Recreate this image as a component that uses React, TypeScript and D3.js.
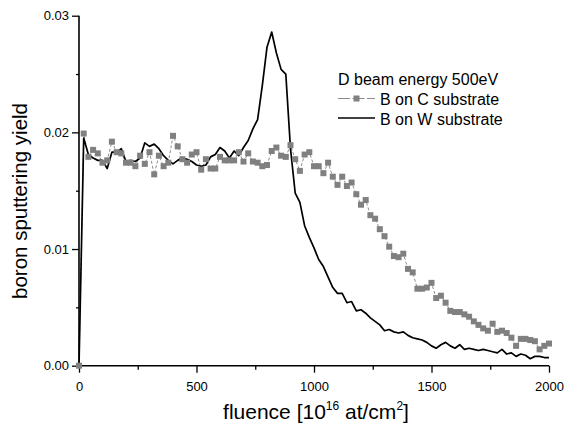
import React, { useRef, useEffect } from "react";
import * as d3 from "d3";

// fluence grid (10^16 at/cm^2), both series sampled every 20
const fluence = d3.range(0, 2001, 20);

const bOnC = [
  0, 0.0199, 0.0179, 0.0185, 0.0182, 0.0174, 0.0176, 0.0192, 0.0183, 0.0182,
  0.0174, 0.0174, 0.0171, 0.018, 0.0173, 0.0183, 0.0164, 0.018, 0.0171, 0.0174,
  0.0197, 0.0188, 0.0177, 0.0174, 0.0181, 0.0183, 0.0168, 0.0177, 0.0169, 0.0169,
  0.0179, 0.0176, 0.0176, 0.0176, 0.0183, 0.0175, 0.0182, 0.0175, 0.0174, 0.0171,
  0.0172, 0.0184, 0.0187, 0.018, 0.0179, 0.0189, 0.0177, 0.0167, 0.0181, 0.0183,
  0.0171, 0.0171, 0.0165, 0.0174, 0.0162, 0.0155, 0.0162, 0.0154, 0.0157, 0.0147,
  0.0138, 0.0142, 0.0129, 0.0126, 0.0117, 0.0111, 0.0102, 0.0094, 0.0093, 0.0096,
  0.0083, 0.008, 0.0066, 0.0066, 0.0067, 0.0071, 0.0058, 0.006, 0.0054, 0.0047,
  0.0046, 0.0046, 0.0044, 0.0042, 0.0038, 0.0035, 0.0032, 0.003, 0.0036, 0.0029,
  0.003, 0.0028, 0.0024, 0.0017, 0.0023, 0.0023, 0.0022, 0.0021, 0.0014, 0.0017,
  0.0019,
];

const bOnW = [
  0, 0.0195, 0.0181, 0.0178, 0.0176, 0.0176, 0.0169, 0.0183, 0.0183, 0.0186,
  0.0175, 0.0176, 0.0175, 0.0178, 0.0191, 0.0188, 0.019, 0.0186, 0.018, 0.0176,
  0.0173, 0.0176, 0.0178, 0.0177, 0.0175, 0.0172, 0.0171, 0.0172, 0.0179, 0.0181,
  0.0187, 0.0184, 0.0178, 0.0184, 0.018, 0.0187, 0.0193, 0.0203, 0.0211, 0.024,
  0.0273, 0.0286, 0.0268, 0.0254, 0.025, 0.0186, 0.0148, 0.014, 0.012, 0.011,
  0.0101, 0.0091, 0.0085, 0.0076, 0.0067, 0.0062, 0.0062, 0.0054, 0.0055, 0.0047,
  0.0048, 0.0045, 0.0041, 0.0038, 0.0035, 0.003, 0.0031, 0.0029, 0.0028, 0.0029,
  0.0026, 0.0024, 0.0023, 0.0022, 0.002, 0.0017, 0.0015, 0.0018, 0.002, 0.0017,
  0.0015, 0.0018, 0.0014, 0.0015, 0.0014, 0.0013, 0.0014, 0.0013, 0.0012, 0.0011,
  0.0014, 0.001, 0.0011, 0.0008, 0.001, 0.0009, 0.0006, 0.0008, 0.0008, 0.0007,
  0.0007,
];

const xTicks = [0, 500, 1000, 1500, 2000];
const xMinor = [250, 750, 1250, 1750];
const yTicks = [0, 0.01, 0.02, 0.03];
const yMinor = [0.005, 0.015, 0.025];

const legendTitle = "D beam energy 500eV";
const seriesNames = ["B on C substrate", "B on W substrate"];

const FONT = "'Liberation Sans', Arial, Helvetica, sans-serif";

const Chart = () => {
  const svgRef = useRef<SVGSVGElement>(null);

  useEffect(() => {
    const svg = d3.select(svgRef.current);
    svg.selectAll("*").remove();

    const x = d3.scaleLinear().domain([0, 2000]).range([79, 549]);
    const y = d3.scaleLinear().domain([0, 0.03]).range([365.7, 15.7]);

    // axes
    const xAxis = svg.append("g").attr("transform", `translate(0,${y(0)})`);
    xAxis.call(
      d3.axisBottom(x).tickValues(xTicks).tickSize(7).tickPadding(9).tickFormat(d3.format("d"))
    );
    xAxis.append("g").call(d3.axisBottom(x).tickValues(xMinor).tickSize(4).tickFormat(() => ""));
    xAxis.selectAll(".domain").remove();
    xAxis
      .append("line")
      .attr("x1", x(0))
      .attr("x2", x(2000))
      .attr("stroke", "#000")
      .attr("stroke-width", 1.6);

    const yAxis = svg.append("g").attr("transform", `translate(${x(0)},0)`);
    yAxis.call(
      d3.axisLeft(y).tickValues(yTicks).tickSize(7).tickPadding(3).tickFormat(d3.format(".2f"))
    );
    yAxis.append("g").call(d3.axisLeft(y).tickValues(yMinor).tickSize(3).tickFormat(() => ""));
    yAxis.selectAll(".domain").remove();
    yAxis
      .append("line")
      .attr("y1", y(0))
      .attr("y2", y(0.03))
      .attr("stroke", "#000")
      .attr("stroke-width", 1.6);

    svg
      .selectAll(".tick line")
      .attr("stroke", "#000")
      .attr("stroke-width", 1.3);
    svg
      .selectAll(".tick text")
      .attr("fill", "#000")
      .style("font-family", FONT)
      .style("font-size", "13px");

    // axis titles
    const xTitle = svg
      .append("text")
      .attr("x", x(1000) + 2)
      .attr("y", 419)
      .attr("text-anchor", "middle")
      .style("font-family", FONT)
      .style("font-size", "21px");
    xTitle.append("tspan").text("fluence [10");
    xTitle.append("tspan").attr("dy", -9).style("font-size", "12px").text("16");
    xTitle.append("tspan").attr("dy", 9).text(" at/cm");
    xTitle.append("tspan").attr("dy", -9).style("font-size", "12px").text("2");
    xTitle.append("tspan").attr("dy", 9).text("]");

    svg
      .append("text")
      .attr("transform", `translate(27,201) rotate(-90)`)
      .attr("text-anchor", "middle")
      .style("font-family", FONT)
      .style("font-size", "20.5px")
      .text("boron sputtering yield");

    const cData = fluence.map((f, i) => [f, bOnC[i]] as [number, number]);
    const wData = fluence.map((f, i) => [f, bOnW[i]] as [number, number]);
    const line = d3
      .line<[number, number]>()
      .x((d) => x(d[0]))
      .y((d) => y(d[1]));

    // B on C: dashed grey line + squares
    svg
      .append("path")
      .attr("d", line(cData))
      .attr("fill", "none")
      .attr("stroke", "#8c8c8c")
      .attr("stroke-width", 1)
      .attr("stroke-dasharray", "3,2");

    // B on W: solid black
    svg
      .append("path")
      .attr("d", line(wData))
      .attr("fill", "none")
      .attr("stroke", "#000")
      .attr("stroke-width", 1.7)
      .attr("stroke-linejoin", "round");

    const sq = 6;
    svg
      .selectAll(".sq")
      .data(cData)
      .join("rect")
      .attr("class", "sq")
      .attr("x", (d) => x(d[0]) - sq / 2)
      .attr("y", (d) => y(d[1]) - sq / 2)
      .attr("width", sq)
      .attr("height", sq)
      .attr("fill", "#808080");

    // legend
    const lg = svg.append("g").style("font-family", FONT).style("font-size", "16px");
    lg.append("text").attr("x", 338).attr("y", 85).text(legendTitle);
    lg.append("line")
      .attr("x1", 338)
      .attr("x2", 375)
      .attr("y1", 98.5)
      .attr("y2", 98.5)
      .attr("stroke", "#8c8c8c")
      .attr("stroke-width", 1)
      .attr("stroke-dasharray", "12,2.5");
    lg.append("rect")
      .attr("x", 356.5 - sq / 2)
      .attr("y", 98.5 - sq / 2)
      .attr("width", sq)
      .attr("height", sq)
      .attr("fill", "#808080");
    lg.append("text").attr("x", 380).attr("y", 104.5).text(seriesNames[0]);
    lg.append("line")
      .attr("x1", 338)
      .attr("x2", 375)
      .attr("y1", 118)
      .attr("y2", 118)
      .attr("stroke", "#000")
      .attr("stroke-width", 1.7);
    lg.append("text").attr("x", 380).attr("y", 124.5).text(seriesNames[1]);
  }, []);

  return <svg ref={svgRef} width={564} height={424}></svg>;
};

export default function App() {
  return (
    <div style={{ position: "absolute", left: 0, top: 0, width: 564, height: 424, background: "#fff" }}>
      <Chart />
    </div>
  );
}
